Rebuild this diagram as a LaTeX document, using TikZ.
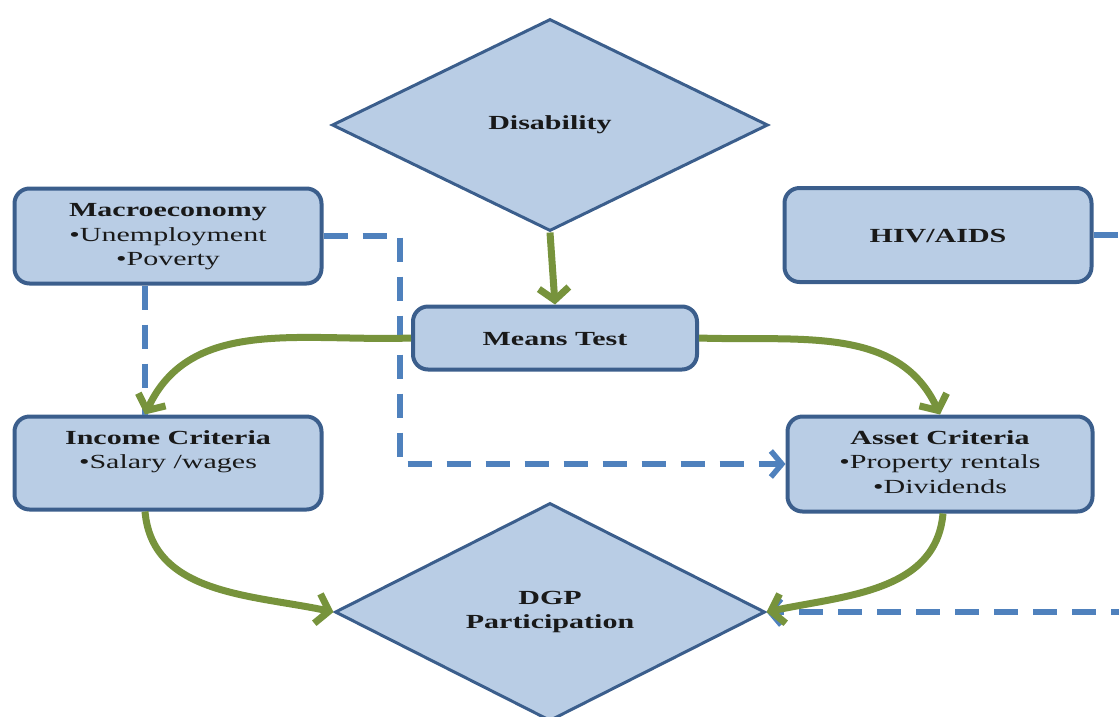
\documentclass[tikz,border=0pt]{standalone}
\usepackage{fontspec}
\setmainfont[FakeStretch=1.5]{Liberation Serif}
\usetikzlibrary{shapes.geometric,arrows.meta}
\definecolor{boxfill}{HTML}{B9CDE5}
\definecolor{boxline}{HTML}{3B5E8C}
\definecolor{arrgreen}{HTML}{77933C}
\definecolor{dashblue}{HTML}{4F81BD}
\tikzset{
  rbox/.style={draw=boxline, line width=4pt, fill=boxfill, rounded corners=15pt, inner sep=0pt},
  dbox/.style={diamond, draw=boxline, line width=3pt, fill=boxfill, inner sep=0pt},
  lbl/.style={align=center, font=\fontsize{20}{24.5}\selectfont, text=black!90},
  greenarr/.style={draw=arrgreen, line width=7pt, -{Straight Barb[length=12pt,width=30pt]}},
  bluedash/.style={draw=dashblue, line width=5.5pt, dash pattern=on 24pt off 15pt},
  bluearr/.style={bluedash, -{Straight Barb[length=11pt,width=26pt]}}
}
\begin{document}
\begin{tikzpicture}[x=1pt,y=-1pt]
\useasboundingbox (0,0) rectangle (1119,716);
\clip (0,0) rectangle (1119,716);
\fill[white] (0,0) rectangle (1119,716);
% nodes
\node[dbox, minimum width=436pt, minimum height=212pt] (dis) at (550,125) {};
\node[lbl] (distxt) at (550,125) {\textbf{Disability}};
\node[dbox, minimum width=430pt, minimum height=218pt] (dgp) at (550,612) {};
\node[lbl] (dgptxt) at (550,612) {\textbf{DGP}\\\textbf{Participation}};
\node[rbox, minimum width=307pt, minimum height=95pt] (mac) at (168,236) {};
\node[lbl] (mactxt) at (168,237) {\textbf{Macroeconomy}\\•Unemployment\\•Poverty};
\node[rbox, minimum width=307pt, minimum height=94pt] (hiv) at (938,235) {};
\node[lbl] (hivtxt) at (938,236) {\textbf{HIV/AIDS}};
\node[rbox, minimum width=284pt, minimum height=63pt] (mt) at (555,338) {};
\node[lbl] (mttxt) at (555,339) {\textbf{Means Test}};
\node[rbox, minimum width=307pt, minimum height=93pt] (inc) at (168,463) {};
\node[lbl, anchor=north] (inctxt) at (168,427) {\textbf{Income Criteria}\\•Salary /wages};
\node[rbox, minimum width=305pt, minimum height=95pt] (ast) at (940,464) {};
\node[lbl, anchor=north] (asttxt) at (940,427) {\textbf{Asset Criteria}\\•Property rentals\\•Dividends};
% blue dashed connectors
\draw[bluedash] (mac.south -| 145,0) -- (inc.north -| 145,0);
\draw[bluearr] (mac.east) -- (400,236) |- (ast.west);
\draw[bluearr] (hiv.east) -- (1140,235) |- (dgp.east);
% green connectors
\draw[greenarr] (dis.south) -- (mt.north);
\draw[greenarr] (mt.west) to[out=182,in=65] (inc.north -| 145,0);
\draw[greenarr] (mt.east) to[out=-2,in=115] (ast.north -| 940,0);
\draw[greenarr] (inc.south -| 145,0) to[out=-85,in=168] (dgp.west);
\draw[greenarr] (ast.south -| 943,0) to[out=-95,in=12] (dgp.east);
\end{tikzpicture}
\end{document}
